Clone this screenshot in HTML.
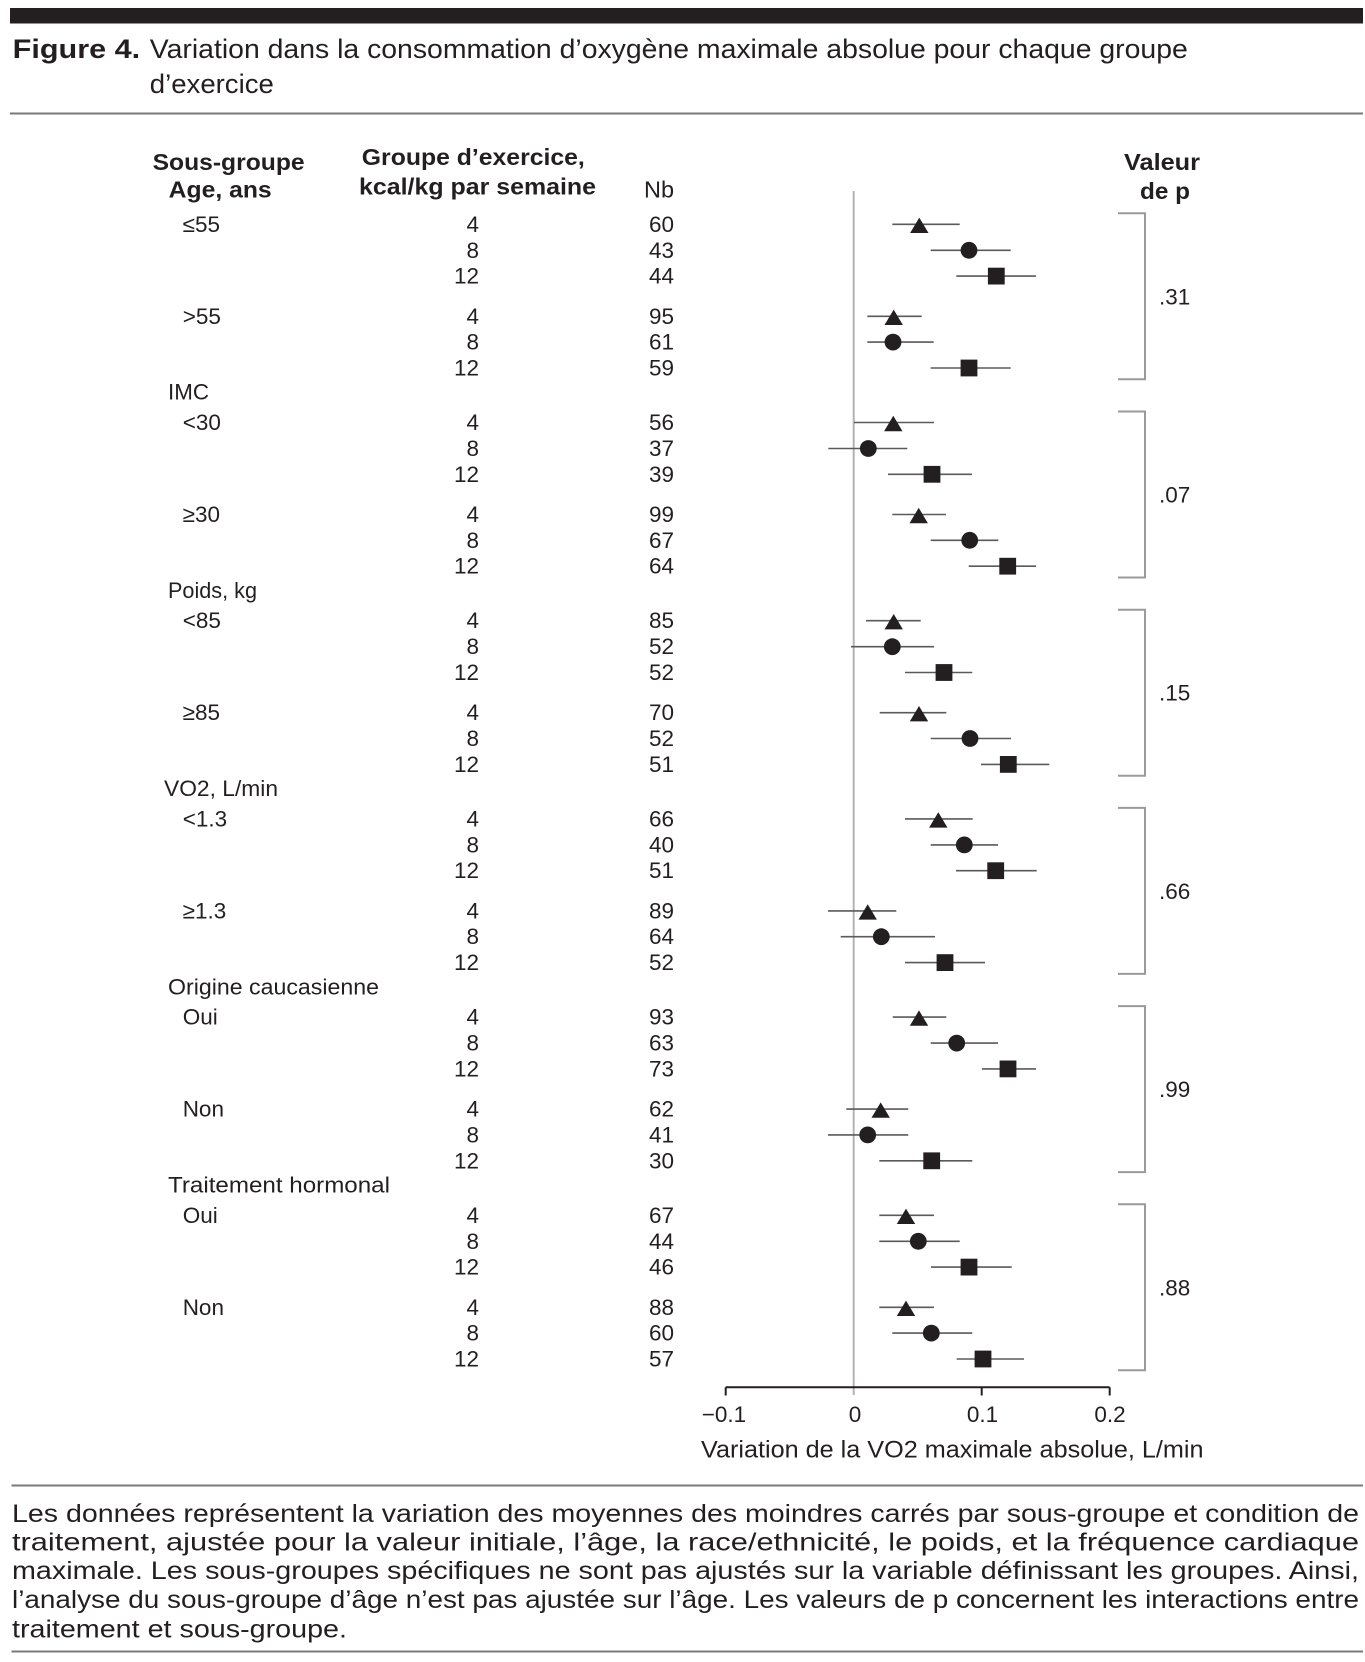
<!DOCTYPE html>
<html>
<head>
<meta charset="utf-8">
<style>
html,body{margin:0;padding:0;background:#fff;}
svg{display:block;}
text{font-family:"Liberation Sans",Arial,sans-serif;fill:#231f20;}
.b{font-weight:bold;}
</style>
</head>
<body>
<svg width="1365" height="1662" viewBox="0 0 1365 1662" xmlns="http://www.w3.org/2000/svg">
<rect x="0" y="0" width="1365" height="1662" fill="#fff"/>
<!-- top bar -->
<rect x="10" y="8" width="1353" height="15.5" fill="#231f20"/>
<!-- title -->
<text x="12.7" y="58" font-size="27" class="b" textLength="127.5" lengthAdjust="spacingAndGlyphs">Figure 4.</text>
<text x="149.8" y="58" font-size="27" textLength="1038" lengthAdjust="spacingAndGlyphs">Variation dans la consommation d’oxygène maximale absolue pour chaque groupe</text>
<text x="149.8" y="93" font-size="27" textLength="124" lengthAdjust="spacingAndGlyphs">d’exercice</text>
<line x1="10" y1="113.5" x2="1363" y2="113.5" stroke="#7a7a7a" stroke-width="2"/>

<!-- headers -->
<g font-size="23">
<text x="152.6" y="170" class="b" textLength="152" lengthAdjust="spacingAndGlyphs">Sous-groupe</text>
<text x="168.7" y="197.5" class="b" textLength="103" lengthAdjust="spacingAndGlyphs">Age, ans</text>
<text x="361.8" y="165" class="b" textLength="223" lengthAdjust="spacingAndGlyphs">Groupe d’exercice,</text>
<text x="359" y="194.5" class="b" textLength="237" lengthAdjust="spacingAndGlyphs">kcal/kg par semaine</text>
<text x="644" y="197.5" textLength="30" lengthAdjust="spacingAndGlyphs">Nb</text>
<text x="1124" y="170" class="b" textLength="76" lengthAdjust="spacingAndGlyphs">Valeur</text>
<text x="1140" y="199" class="b" textLength="50" lengthAdjust="spacingAndGlyphs">de p</text>
</g>

<!-- category labels -->
<g font-size="22.5">
<text x="168" y="399.7" textLength="41" lengthAdjust="spacingAndGlyphs">IMC</text>
<text x="168" y="597.9" textLength="89" lengthAdjust="spacingAndGlyphs">Poids, kg</text>
<text x="164" y="796.1" textLength="114" lengthAdjust="spacingAndGlyphs">VO2, L/min</text>
<text x="168" y="994.3" textLength="211" lengthAdjust="spacingAndGlyphs">Origine caucasienne</text>
<text x="168" y="1192.5" textLength="222" lengthAdjust="spacingAndGlyphs">Traitement hormonal</text>

<!-- subgroup labels -->
<text x="182.7" y="231.8">≤55</text>
<text x="182.7" y="323.8">&gt;55</text>
<text x="182.7" y="430">&lt;30</text>
<text x="182.7" y="522">≥30</text>
<text x="182.7" y="628.2">&lt;85</text>
<text x="182.7" y="720.2">≥85</text>
<text x="182.7" y="826.4">&lt;1.3</text>
<text x="182.7" y="918.4">≥1.3</text>
<text x="182.7" y="1024.6">Oui</text>
<text x="182.7" y="1116.6">Non</text>
<text x="182.7" y="1222.8">Oui</text>
<text x="182.7" y="1314.8">Non</text>
</g>

<!-- exercise groups -->
<g font-size="22.5" text-anchor="end">
<text x="479" y="231.8">4</text><text x="479" y="257.8">8</text><text x="479" y="283.6">12</text>
<text x="479" y="323.8">4</text><text x="479" y="349.6">8</text><text x="479" y="375.5">12</text>
<text x="479" y="430">4</text><text x="479" y="456">8</text><text x="479" y="481.8">12</text>
<text x="479" y="522">4</text><text x="479" y="547.8">8</text><text x="479" y="573.7">12</text>
<text x="479" y="628.2">4</text><text x="479" y="654.2">8</text><text x="479" y="680">12</text>
<text x="479" y="720.2">4</text><text x="479" y="746">8</text><text x="479" y="771.9">12</text>
<text x="479" y="826.4">4</text><text x="479" y="852.4">8</text><text x="479" y="878.2">12</text>
<text x="479" y="918.4">4</text><text x="479" y="944.2">8</text><text x="479" y="970.1">12</text>
<text x="479" y="1024.6">4</text><text x="479" y="1050.6">8</text><text x="479" y="1076.4">12</text>
<text x="479" y="1116.6">4</text><text x="479" y="1142.4">8</text><text x="479" y="1168.3">12</text>
<text x="479" y="1222.8">4</text><text x="479" y="1248.8">8</text><text x="479" y="1274.6">12</text>
<text x="479" y="1314.8">4</text><text x="479" y="1340.6">8</text><text x="479" y="1366.5">12</text>
</g>

<!-- Nb -->
<g font-size="22.5" text-anchor="end">
<text x="674" y="231.8">60</text><text x="674" y="257.8">43</text><text x="674" y="283.6">44</text>
<text x="674" y="323.8">95</text><text x="674" y="349.6">61</text><text x="674" y="375.5">59</text>
<text x="674" y="430">56</text><text x="674" y="456">37</text><text x="674" y="481.8">39</text>
<text x="674" y="522">99</text><text x="674" y="547.8">67</text><text x="674" y="573.7">64</text>
<text x="674" y="628.2">85</text><text x="674" y="654.2">52</text><text x="674" y="680">52</text>
<text x="674" y="720.2">70</text><text x="674" y="746">52</text><text x="674" y="771.9">51</text>
<text x="674" y="826.4">66</text><text x="674" y="852.4">40</text><text x="674" y="878.2">51</text>
<text x="674" y="918.4">89</text><text x="674" y="944.2">64</text><text x="674" y="970.1">52</text>
<text x="674" y="1024.6">93</text><text x="674" y="1050.6">63</text><text x="674" y="1076.4">73</text>
<text x="674" y="1116.6">62</text><text x="674" y="1142.4">41</text><text x="674" y="1168.3">30</text>
<text x="674" y="1222.8">67</text><text x="674" y="1248.8">44</text><text x="674" y="1274.6">46</text>
<text x="674" y="1314.8">88</text><text x="674" y="1340.6">60</text><text x="674" y="1366.5">57</text>
</g>

<!-- zero line -->
<line x1="853.7" y1="191" x2="853.7" y2="1395" stroke="#b3b3b3" stroke-width="2"/>

<!-- error bars -->
<g stroke="#5a5a5a" stroke-width="1.6">
<line x1="892.3" y1="224.3" x2="959.7" y2="224.3"/>
<line x1="930.7" y1="250.3" x2="1010.7" y2="250.3"/>
<line x1="956.3" y1="276.1" x2="1036" y2="276.1"/>
<line x1="867.3" y1="316.3" x2="921.7" y2="316.3"/>
<line x1="867.3" y1="342.1" x2="933.7" y2="342.1"/>
<line x1="930.7" y1="368" x2="1010.7" y2="368"/>

<line x1="854" y1="422.5" x2="934" y2="422.5"/>
<line x1="828.3" y1="448.5" x2="907.3" y2="448.5"/>
<line x1="888" y1="474.3" x2="972" y2="474.3"/>
<line x1="892.3" y1="514.5" x2="946" y2="514.5"/>
<line x1="930.7" y1="540.3" x2="998.3" y2="540.3"/>
<line x1="968.7" y1="566.2" x2="1036" y2="566.2"/>

<line x1="866" y1="620.7" x2="920.7" y2="620.7"/>
<line x1="851" y1="646.7" x2="934" y2="646.7"/>
<line x1="905" y1="672.5" x2="972.3" y2="672.5"/>
<line x1="879.7" y1="712.7" x2="946.3" y2="712.7"/>
<line x1="930.7" y1="738.5" x2="1011" y2="738.5"/>
<line x1="981" y1="764.4" x2="1049.3" y2="764.4"/>

<line x1="905" y1="818.9" x2="972.7" y2="818.9"/>
<line x1="930.7" y1="844.9" x2="998" y2="844.9"/>
<line x1="956" y1="870.7" x2="1036.7" y2="870.7"/>
<line x1="828" y1="910.9" x2="896.3" y2="910.9"/>
<line x1="840.7" y1="936.7" x2="935" y2="936.7"/>
<line x1="905" y1="962.6" x2="985" y2="962.6"/>

<line x1="892.7" y1="1017.1" x2="946.3" y2="1017.1"/>
<line x1="930.7" y1="1043.1" x2="998" y2="1043.1"/>
<line x1="982" y1="1068.9" x2="1036" y2="1068.9"/>
<line x1="846.3" y1="1109.1" x2="908.3" y2="1109.1"/>
<line x1="828" y1="1134.9" x2="908.3" y2="1134.9"/>
<line x1="879.3" y1="1160.8" x2="972.3" y2="1160.8"/>

<line x1="879.3" y1="1215.3" x2="934" y2="1215.3"/>
<line x1="879.3" y1="1241.3" x2="959.7" y2="1241.3"/>
<line x1="931" y1="1267.1" x2="1011.7" y2="1267.1"/>
<line x1="879.3" y1="1307.3" x2="934" y2="1307.3"/>
<line x1="892.3" y1="1333.1" x2="972.3" y2="1333.1"/>
<line x1="956.7" y1="1359" x2="1024" y2="1359"/>
</g>

<!-- markers -->
<g fill="#231f20">
<!-- block 0 -->
<path d="M919.3,217.6 L928.5,233 L910.1,233 Z"/>
<circle cx="969" cy="250.3" r="8.4"/>
<rect x="987.9" y="267.7" width="16.8" height="16.8"/>
<path d="M893.7,309.6 L902.9,325 L884.5,325 Z"/>
<circle cx="893" cy="342.1" r="8.4"/>
<rect x="960.6" y="359.6" width="16.8" height="16.8"/>
<!-- block 1 -->
<path d="M893.3,415.8 L902.5,431.2 L884.1,431.2 Z"/>
<circle cx="868.3" cy="448.5" r="8.4"/>
<rect x="923.6" y="465.9" width="16.8" height="16.8"/>
<path d="M918.7,507.8 L927.9,523.2 L909.5,523.2 Z"/>
<circle cx="969.7" cy="540.3" r="8.4"/>
<rect x="999.3" y="557.8" width="16.8" height="16.8"/>
<!-- block 2 -->
<path d="M893.7,614 L902.9,629.4 L884.5,629.4 Z"/>
<circle cx="892.3" cy="646.7" r="8.4"/>
<rect x="935.6" y="664.1" width="16.8" height="16.8"/>
<path d="M919,706 L928.2,721.4 L909.8,721.4 Z"/>
<circle cx="970" cy="738.5" r="8.4"/>
<rect x="999.9" y="756" width="16.8" height="16.8"/>
<!-- block 3 -->
<path d="M938.3,812.2 L947.5,827.6 L929.1,827.6 Z"/>
<circle cx="964.3" cy="844.9" r="8.4"/>
<rect x="987.3" y="862.3" width="16.8" height="16.8"/>
<path d="M867.7,904.2 L876.9,919.6 L858.5,919.6 Z"/>
<circle cx="881.3" cy="936.7" r="8.4"/>
<rect x="936.6" y="954.2" width="16.8" height="16.8"/>
<!-- block 4 -->
<path d="M919,1010.4 L928.2,1025.8 L909.8,1025.8 Z"/>
<circle cx="956.7" cy="1043.1" r="8.4"/>
<rect x="999.6" y="1060.5" width="16.8" height="16.8"/>
<path d="M880.7,1102.4 L889.9,1117.8 L871.5,1117.8 Z"/>
<circle cx="867.7" cy="1134.9" r="8.4"/>
<rect x="923.3" y="1152.4" width="16.8" height="16.8"/>
<!-- block 5 -->
<path d="M906,1208.6 L915.2,1224 L896.8,1224 Z"/>
<circle cx="918.3" cy="1241.3" r="8.4"/>
<rect x="960.6" y="1258.7" width="16.8" height="16.8"/>
<path d="M906,1300.6 L915.2,1316 L896.8,1316 Z"/>
<circle cx="931.3" cy="1333.1" r="8.4"/>
<rect x="974.6" y="1350.6" width="16.8" height="16.8"/>
</g>

<!-- brackets -->
<g fill="none" stroke="#9a9a9a" stroke-width="2">
<polyline points="1118,213.3 1145,213.3 1145,379.3 1118,379.3"/>
<polyline points="1118,411.5 1145,411.5 1145,577.5 1118,577.5"/>
<polyline points="1118,609.7 1145,609.7 1145,775.7 1118,775.7"/>
<polyline points="1118,807.9 1145,807.9 1145,973.9 1118,973.9"/>
<polyline points="1118,1006.1 1145,1006.1 1145,1172.1 1118,1172.1"/>
<polyline points="1118,1204.3 1145,1204.3 1145,1370.3 1118,1370.3"/>
</g>
<g font-size="22.5">
<text x="1159" y="304.3">.31</text>
<text x="1159" y="502.5">.07</text>
<text x="1159" y="700.7">.15</text>
<text x="1159" y="898.9">.66</text>
<text x="1159" y="1097.1">.99</text>
<text x="1159" y="1295.3">.88</text>
</g>

<!-- x axis -->
<g stroke="#231f20" stroke-width="2">
<line x1="725.7" y1="1387.3" x2="1109.7" y2="1387.3"/>
<line x1="725.7" y1="1387.3" x2="725.7" y2="1395.5"/>
<line x1="981.7" y1="1387.3" x2="981.7" y2="1395.5"/>
<line x1="1109.7" y1="1387.3" x2="1109.7" y2="1395.5"/>
</g>
<g font-size="22.5" text-anchor="middle">
<text x="724" y="1422">−0.1</text>
<text x="855" y="1422">0</text>
<text x="982.5" y="1422">0.1</text>
<text x="1110" y="1422">0.2</text>
</g>
<text x="701" y="1457.5" font-size="24" textLength="502.5" lengthAdjust="spacingAndGlyphs">Variation de la VO2 maximale absolue, L/min</text>

<!-- footer -->
<line x1="11.5" y1="1485.5" x2="1363" y2="1485.5" stroke="#7a7a7a" stroke-width="2"/>
<g font-size="25">
<text x="12" y="1522" textLength="1347" lengthAdjust="spacingAndGlyphs">Les données représentent la variation des moyennes des moindres carrés par sous-groupe et condition de</text>
<text x="12" y="1550.5" textLength="1347" lengthAdjust="spacingAndGlyphs">traitement,  ajustée  pour  la  valeur  initiale,  l’âge,  la  race/ethnicité,  le  poids,  et  la  fréquence  cardiaque</text>
<text x="12" y="1579" textLength="1347" lengthAdjust="spacingAndGlyphs">maximale. Les sous-groupes spécifiques ne sont pas ajustés sur la variable définissant les groupes. Ainsi,</text>
<text x="12" y="1608" textLength="1347" lengthAdjust="spacingAndGlyphs">l’analyse du sous-groupe d’âge n’est pas ajustée sur l’âge. Les valeurs de p concernent les interactions entre</text>
<text x="12" y="1637.5" textLength="335" lengthAdjust="spacingAndGlyphs">traitement et sous-groupe.</text>
</g>
<line x1="11.5" y1="1651.5" x2="1363" y2="1651.5" stroke="#7a7a7a" stroke-width="2"/>
</svg>
</body>
</html>
